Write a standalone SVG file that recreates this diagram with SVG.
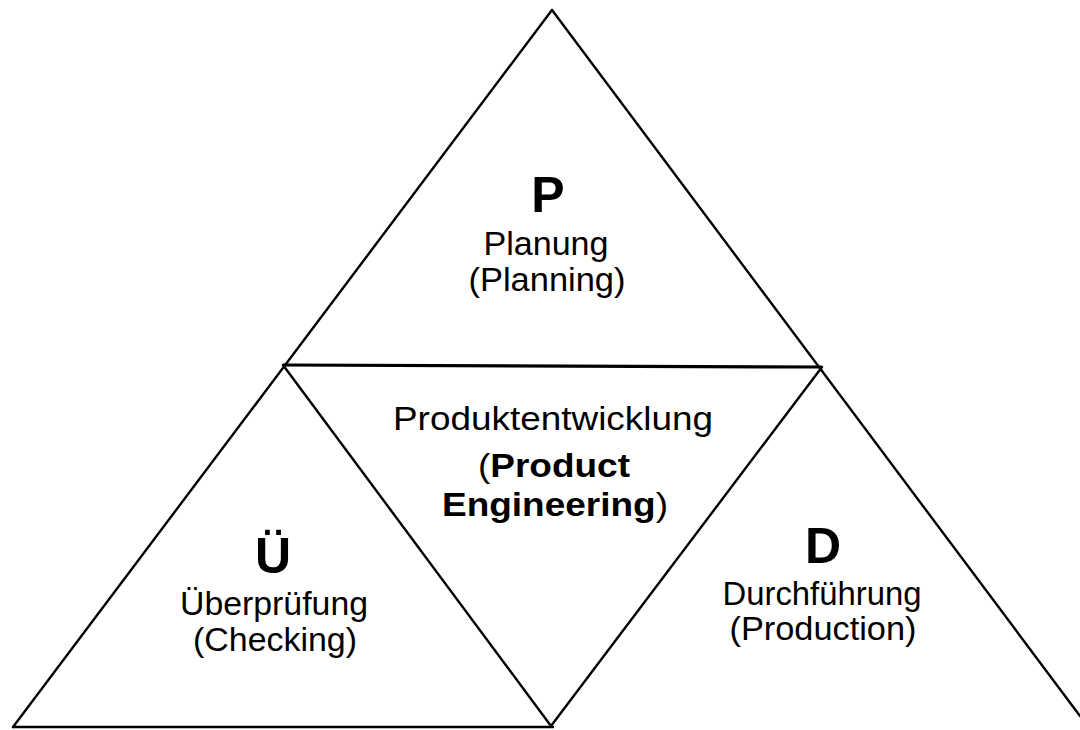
<svg xmlns="http://www.w3.org/2000/svg" width="1080" height="730" viewBox="0 0 1080 730">
  <style>
    .edge { fill: none; stroke: #000; stroke-width: 2.4; stroke-linecap: round; stroke-linejoin: round; }
    .mid { fill: none; stroke: #000; stroke-width: 3.2; }
    .lbl { font-family: "Liberation Sans", Arial, sans-serif; font-size: 34px; fill: #000; text-anchor: middle; }
    .big { font-family: "Liberation Sans", Arial, sans-serif; font-size: 50px; font-weight: bold; fill: #000; text-anchor: middle; }
    .b { font-weight: bold; }
  </style>
  <rect width="1080" height="730" fill="#fff"/>

  <!-- outline of the large triangle and the inner split -->
  <g id="connectors">
    <path class="edge" d="M 552 10 L 13 727"/>
    <path class="edge" d="M 552 10 L 1080 716"/>
    <path class="edge" d="M 13 727 L 553 727"/>
    <path class="mid" d="M 283 365 L 822 367"/>
    <path class="edge" d="M 283 365 L 551 726 L 822 367"/>
  </g>

  <!-- top: planning -->
  <g id="node-p">
    <text class="big" x="548" y="212">P</text>
    <text class="lbl" x="546" y="255" textLength="125" lengthAdjust="spacingAndGlyphs">Planung</text>
    <text class="lbl" x="547" y="291" textLength="157" lengthAdjust="spacingAndGlyphs">(Planning)</text>
  </g>

  <!-- centre: product engineering -->
  <g id="node-center">
    <text class="lbl" x="553" y="430" textLength="320" lengthAdjust="spacingAndGlyphs">Produktentwicklung</text>
    <text class="lbl" x="554" y="477" textLength="152" lengthAdjust="spacingAndGlyphs">(<tspan class="b">Product</tspan></text>
    <text class="lbl" x="555" y="516" textLength="226" lengthAdjust="spacingAndGlyphs"><tspan class="b">Engineering</tspan>)</text>
  </g>

  <!-- lower left: checking -->
  <g id="node-u">
    <text class="big" x="273" y="573">Ü</text>
    <text class="lbl" x="274" y="615" textLength="188" lengthAdjust="spacingAndGlyphs">Überprüfung</text>
    <text class="lbl" x="275" y="651" textLength="164" lengthAdjust="spacingAndGlyphs">(Checking)</text>
  </g>

  <!-- lower right: production -->
  <g id="node-d">
    <text class="big" x="823" y="563">D</text>
    <text class="lbl" x="822" y="605" textLength="199" lengthAdjust="spacingAndGlyphs">Durchführung</text>
    <text class="lbl" x="823" y="640" textLength="187" lengthAdjust="spacingAndGlyphs">(Production)</text>
  </g>
</svg>
